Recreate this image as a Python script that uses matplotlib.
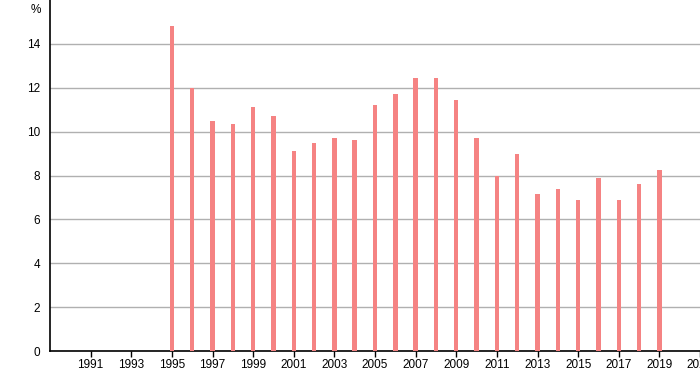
import matplotlib
matplotlib.use('Agg')
import matplotlib.pyplot as plt

plt.rcParams['font.family'] = ['Liberation Sans', 'DejaVu Sans']

years = list(range(1995, 2020))
values = [14.8, 12.0, 10.5, 10.35, 11.1, 10.7, 9.1, 9.5, 9.7, 9.6,
          11.2, 11.7, 12.45, 12.45, 11.45, 9.7, 8.0, 9.0, 7.15, 7.4,
          6.9, 7.9, 6.9, 7.6, 8.25]
x_ticks = list(range(1991, 2022, 2))
y_ticks = list(range(0, 16, 2))

fig = plt.figure(figsize=(7, 3.7), dpi=100)
ax = fig.add_axes([50/700, 19/370, 650/700, 351/370])

ax.bar(years, values, width=0.22, color='#f58383', zorder=3)

ax.set_xlim(1989, 2021)
ax.set_ylim(0, 16)
ax.set_xticks(x_ticks)
ax.set_xticklabels([str(y) for y in x_ticks], fontsize=8.5)
ax.set_yticks(y_ticks)
ax.set_yticklabels([str(v) for v in y_ticks], fontsize=8.5)
ax.yaxis.grid(True, color='#b0b0b0', linewidth=1, zorder=0)
ax.tick_params(axis='y', length=0, pad=7)
ax.tick_params(axis='x', length=4, width=1, pad=1.5)

for side in ['top', 'right']:
    ax.spines[side].set_visible(False)
ax.spines['left'].set_linewidth(1.2)
ax.spines['bottom'].set_linewidth(1.2)

fig.text(36/700, 1 - 10/370, '%', fontsize=8.5, ha='center', va='center')

fig.savefig('out.png', dpi=100)
